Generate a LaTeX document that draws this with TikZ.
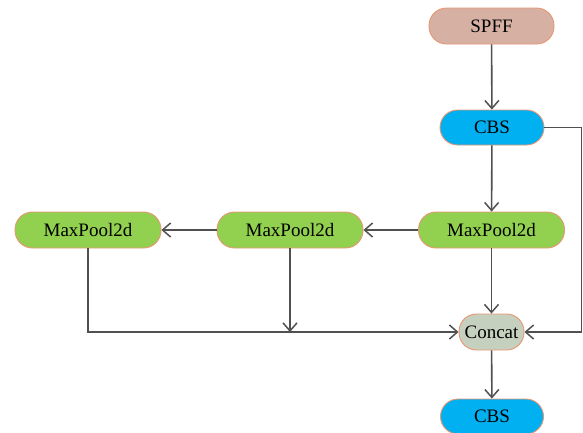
\documentclass[tikz,border=0pt]{standalone}
\usepackage{fontspec}
\setmainfont{Liberation Serif}
\usetikzlibrary{arrows.meta}
\definecolor{spffc}{RGB}{214,177,163}
\definecolor{cbsc}{RGB}{0,176,240}
\definecolor{mpc}{RGB}{146,208,80}
\definecolor{catc}{RGB}{198,208,190}
\definecolor{bordc}{RGB}{232,150,115}
\definecolor{linec}{RGB}{80,80,80}
\tikzset{
  blk/.style={draw=bordc, line width=0.9pt, rounded corners=17.5pt, minimum height=36pt, inner sep=0pt, font=\fontsize{19}{22}\selectfont, text=black},
  conn/.style={draw=linec, line width=1.6pt, -{Straight Barb[length=8pt,width=14pt,line width=1.5pt]}},
  plain/.style={draw=linec, line width=1.6pt}
}
\begin{document}
\begin{tikzpicture}[x=1pt,y=-1pt]
\useasboundingbox (0,0) rectangle (583,432);
\node[blk, fill=spffc, minimum width=125pt] (spff) at (491.5,26) {SPFF};
\node[blk, fill=cbsc, minimum width=104pt, minimum height=35pt] (cbs1) at (492,127.5) {CBS};
\node[blk, fill=mpc, minimum width=146pt] (mp1) at (491.5,230) {MaxPool2d};
\node[blk, fill=mpc, minimum width=146pt] (mp2) at (290,230) {MaxPool2d};
\node[blk, fill=mpc, minimum width=146pt] (mp3) at (88,230) {MaxPool2d};
\node[blk, fill=catc, minimum width=65pt] (cat) at (491.5,332) {Concat};
\node[blk, fill=cbsc, minimum width=103pt, minimum height=35pt] (cbs2) at (492,416.5) {CBS};
\coordinate (j) at (290,332);
\coordinate (rt) at (581.5,127.5);
\coordinate (rb) at (581.5,332);
\draw[conn] (spff) -- (cbs1);
\draw[conn] (cbs1) -- (mp1);
\draw[conn] (mp1) -- (mp2);
\draw[conn] (mp2) -- (mp3);
\draw[conn] (mp1) -- (cat);
\draw[conn] (mp2) -- (j);
\draw[conn] (mp3.south) |- (cat.west);
\draw[conn] (cbs1.east) -- (rt) -- (rb) -- (cat.east);
\draw[conn] (cat) -- (cbs2);
\end{tikzpicture}
\end{document}
